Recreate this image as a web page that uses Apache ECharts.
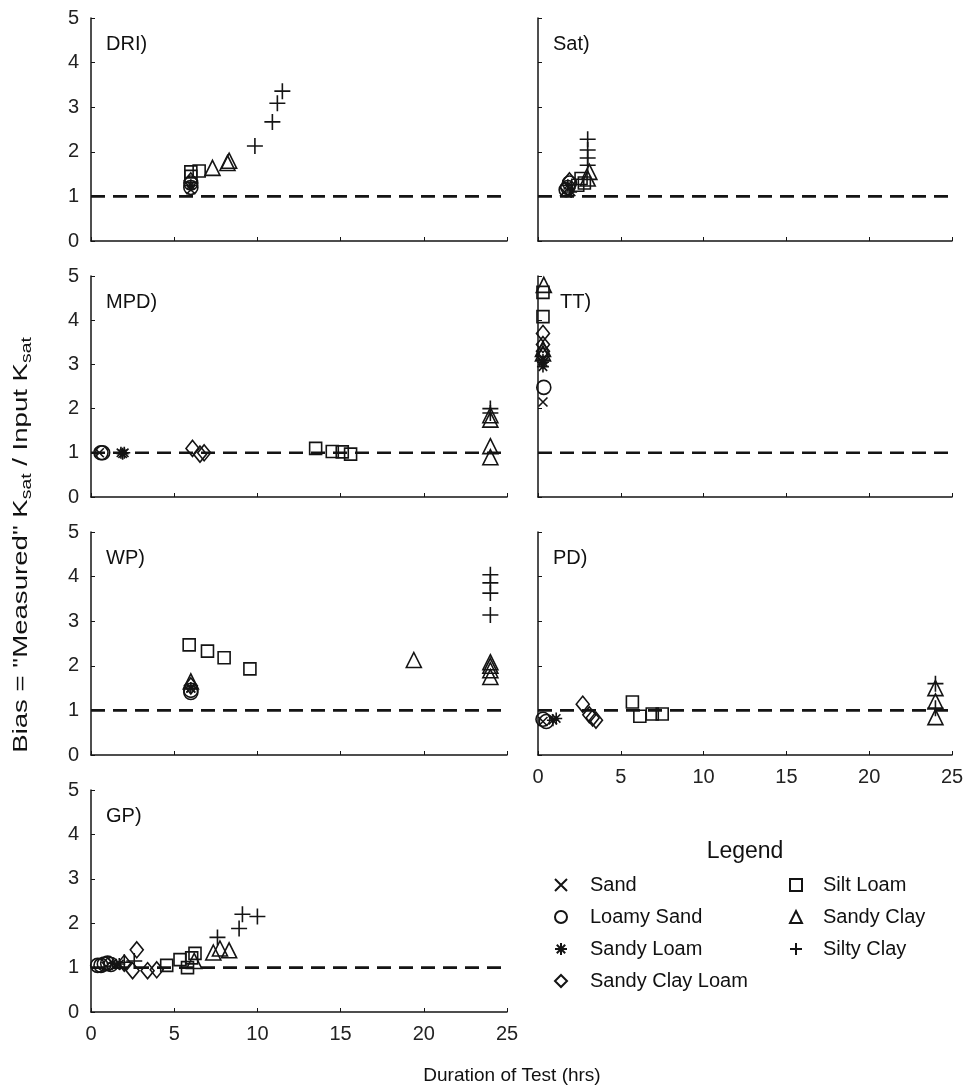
<!DOCTYPE html>
<html>
<head>
<meta charset="utf-8">
<script src="https://cdn.jsdelivr.net/npm/echarts@6/dist/echarts.min.js"></script>
<style>
  html, body { margin: 0; padding: 0; background: #fff; }
  #main { width: 968px; height: 1090px; }
</style>
</head>
<body>
<div id="main"></div>
<script>
// soil classes, in legend order
var soilTypes = ['Sand', 'Loamy Sand', 'Sandy Loam', 'Sandy Clay Loam', 'Silt Loam', 'Sandy Clay', 'Silty Clay'];
var panelNames = ['DRI)', 'Sat)', 'MPD)', 'TT)', 'WP)', 'PD)', 'GP)'];
var xTicks = [0, 5, 10, 15, 20, 25];
var yTicks = [0, 1, 2, 3, 4, 5];
var refLine = [[0, 1], [25, 1]];

// [class, duration (hrs), bias]
var dri = [
  ['Sand', 6.0, 1.15],
  ['Loamy Sand', 6.0, 1.2], ['Loamy Sand', 6.0, 1.3],
  ['Sandy Loam', 6.0, 1.25],
  ['Sandy Clay Loam', 6.0, 1.35],
  ['Silt Loam', 6.0, 1.45], ['Silt Loam', 6.0, 1.55], ['Silt Loam', 6.5, 1.57],
  ['Sandy Clay', 7.3, 1.64], ['Sandy Clay', 8.2, 1.75], ['Sandy Clay', 8.3, 1.8],
  ['Silty Clay', 9.85, 2.13], ['Silty Clay', 10.9, 2.67], ['Silty Clay', 11.2, 3.09], ['Silty Clay', 11.5, 3.36]
];
var sat = [
  ['Sand', 1.6, 1.1],
  ['Loamy Sand', 1.7, 1.15], ['Loamy Sand', 1.8, 1.2], ['Loamy Sand', 1.9, 1.3],
  ['Sandy Loam', 1.8, 1.25], ['Sandy Loam', 2.0, 1.1],
  ['Sandy Clay Loam', 1.9, 1.35],
  ['Silt Loam', 2.4, 1.25], ['Silt Loam', 2.6, 1.4], ['Silt Loam', 2.8, 1.3],
  ['Sandy Clay', 3.0, 1.4], ['Sandy Clay', 3.1, 1.55],
  ['Silty Clay', 3.0, 1.7], ['Silty Clay', 3.0, 1.86], ['Silty Clay', 3.0, 2.04], ['Silty Clay', 3.0, 2.28]
];
var mpd = [
  ['Sand', 0.5, 1.0],
  ['Loamy Sand', 0.6, 1.0], ['Loamy Sand', 0.7, 1.0],
  ['Sandy Loam', 1.8, 1.0], ['Sandy Loam', 1.9, 0.98], ['Sandy Loam', 2.0, 1.0],
  ['Sandy Clay Loam', 6.1, 1.1], ['Sandy Clay Loam', 6.55, 0.97], ['Sandy Clay Loam', 6.8, 1.0],
  ['Silt Loam', 13.5, 1.1], ['Silt Loam', 14.5, 1.03], ['Silt Loam', 15.1, 1.02], ['Silt Loam', 15.6, 0.97],
  ['Sandy Clay', 24, 1.75], ['Sandy Clay', 24, 1.85], ['Sandy Clay', 24, 1.15], ['Sandy Clay', 24, 0.9],
  ['Silty Clay', 24, 2.0], ['Silty Clay', 24, 1.9]
];
var tt = [
  ['Sand', 0.3, 2.15],
  ['Loamy Sand', 0.35, 2.48],
  ['Sandy Loam', 0.3, 2.95], ['Sandy Loam', 0.3, 3.05], ['Sandy Loam', 0.3, 3.1],
  ['Sandy Clay Loam', 0.3, 3.7], ['Sandy Clay Loam', 0.3, 3.45], ['Sandy Clay Loam', 0.3, 3.3], ['Sandy Clay Loam', 0.3, 3.2],
  ['Silt Loam', 0.3, 4.63], ['Silt Loam', 0.3, 4.08],
  ['Sandy Clay', 0.35, 4.8], ['Sandy Clay', 0.3, 3.35], ['Sandy Clay', 0.3, 3.25]
];
var wp = [
  ['Sand', 6.0, 1.5],
  ['Loamy Sand', 6.0, 1.4], ['Loamy Sand', 6.0, 1.45],
  ['Sandy Loam', 6.0, 1.5],
  ['Sandy Clay Loam', 6.0, 1.55],
  ['Silt Loam', 5.9, 2.47], ['Silt Loam', 7.0, 2.33], ['Silt Loam', 8.0, 2.18], ['Silt Loam', 9.55, 1.93],
  ['Sandy Clay', 6.0, 1.65], ['Sandy Clay', 19.4, 2.13], ['Sandy Clay', 24, 2.08], ['Sandy Clay', 24, 2.0], ['Sandy Clay', 24, 1.9], ['Sandy Clay', 24, 1.75],
  ['Silty Clay', 24, 4.04], ['Silty Clay', 24, 3.86], ['Silty Clay', 24, 3.63], ['Silty Clay', 24, 3.14]
];
var pd = [
  ['Sand', 0.3, 0.75],
  ['Loamy Sand', 0.3, 0.8], ['Loamy Sand', 0.5, 0.75],
  ['Sandy Loam', 0.9, 0.78], ['Sandy Loam', 1.1, 0.82],
  ['Sandy Clay Loam', 2.7, 1.14], ['Sandy Clay Loam', 3.1, 0.9], ['Sandy Clay Loam', 3.3, 0.83], ['Sandy Clay Loam', 3.5, 0.78],
  ['Silt Loam', 5.7, 1.19], ['Silt Loam', 6.15, 0.87], ['Silt Loam', 6.9, 0.92], ['Silt Loam', 7.5, 0.92],
  ['Sandy Clay', 24, 1.5], ['Sandy Clay', 24, 1.2], ['Sandy Clay', 24, 0.85],
  ['Silty Clay', 24, 1.6], ['Silty Clay', 24, 1.05]
];
var gp = [
  ['Sand', 0.9, 1.03], ['Sand', 1.5, 1.05],
  ['Loamy Sand', 0.4, 1.05], ['Loamy Sand', 0.6, 1.05], ['Loamy Sand', 0.8, 1.08], ['Loamy Sand', 1.0, 1.1], ['Loamy Sand', 1.2, 1.07],
  ['Sandy Loam', 1.3, 1.1], ['Sandy Loam', 1.7, 1.08],
  ['Sandy Clay Loam', 2.0, 1.1], ['Sandy Clay Loam', 2.75, 1.4], ['Sandy Clay Loam', 2.5, 0.93], ['Sandy Clay Loam', 3.4, 0.93], ['Sandy Clay Loam', 3.95, 0.95],
  ['Silt Loam', 4.55, 1.05], ['Silt Loam', 5.35, 1.18], ['Silt Loam', 5.8, 1.0], ['Silt Loam', 6.05, 1.22], ['Silt Loam', 6.25, 1.32],
  ['Sandy Clay', 6.2, 1.15], ['Sandy Clay', 7.35, 1.34], ['Sandy Clay', 7.75, 1.43], ['Sandy Clay', 8.3, 1.39],
  ['Silty Clay', 2.0, 1.12], ['Silty Clay', 2.6, 1.15], ['Silty Clay', 7.6, 1.68], ['Silty Clay', 8.9, 1.88], ['Silty Clay', 9.1, 2.2], ['Silty Clay', 10.0, 2.15]
];
var panelData = [dri, sat, mpd, tt, wp, pd, gp];

(function(window, echarts, undefined) {
  var FONT = '"Liberation Sans", Arial, sans-serif';
  var INK = '#141414';

  // marker shape and size for each class
  var symbolMap = {
    'Sand': ['path://M0,0L10,10M0,10L10,0', 9],
    'Loamy Sand': ['circle', 14],
    'Sandy Loam': ['path://M5,0L5,10M0,5L10,5M1.5,1.5L8.5,8.5M1.5,8.5L8.5,1.5', 12],
    'Sandy Clay Loam': ['diamond', [13, 16]],
    'Silt Loam': ['rect', 12],
    'Sandy Clay': ['triangle', 15],
    'Silty Clay': ['path://M5,0L5,10M0,5L10,5', 16]
  };

  // grid boxes: left column / right column, four rows
  var colLeft = [91, 538];
  var colWidth = [416, 414];
  var rowTop = [18, 276, 532, 790];
  var rowHeight = [223, 221, 223, 222];

  echarts.init(document.getElementById('main')).setOption(fnBuildOption());

  function fnBuildOption() {
    var grids = [], xAxes = [], yAxes = [], series = [], graphics = [];

    panelNames.forEach(function(name, i) {
      var col = i % 2, row = Math.floor(i / 2);
      var showX = (i === 5 || i === 6);
      grids.push({
        left: colLeft[col], top: rowTop[row],
        width: colWidth[col], height: rowHeight[row]
      });
      xAxes.push({
        gridIndex: i, type: 'value',
        min: xTicks[0], max: xTicks[xTicks.length - 1], interval: xTicks[1] - xTicks[0],
        axisLine: { show: true, onZero: false, lineStyle: { color: INK, width: 1.5 } },
        axisTick: { show: true, inside: true, length: 4, lineStyle: { color: INK } },
        axisLabel: { show: showX, margin: 12, fontSize: 20, color: '#222', fontFamily: FONT },
        splitLine: { show: false }
      });
      yAxes.push({
        gridIndex: i, type: 'value',
        min: yTicks[0], max: yTicks[yTicks.length - 1], interval: yTicks[1] - yTicks[0],
        axisLine: { show: true, lineStyle: { color: INK, width: 1.5 } },
        axisTick: { show: true, inside: true, length: 4, lineStyle: { color: INK } },
        axisLabel: { show: col === 0, margin: 12, fontSize: 20, color: '#222', fontFamily: FONT },
        splitLine: { show: false }
      });

      // dashed reference line at bias = 1
      series.push({
        type: 'line', xAxisIndex: i, yAxisIndex: i, data: refLine,
        symbol: 'none', silent: true, z: 1,
        lineStyle: { color: INK, width: 2.6, type: [14, 8] }
      });

      soilTypes.forEach(function(soil) {
        var pts = panelData[i].filter(function(r) { return r[0] === soil; })
          .map(function(r) { return [r[1], r[2]]; });
        if (!pts.length) return;
        series.push({
          type: 'scatter', name: soil, xAxisIndex: i, yAxisIndex: i, data: pts,
          symbol: symbolMap[soil][0], symbolSize: symbolMap[soil][1], z: 3,
          itemStyle: { color: 'rgba(0,0,0,0)', borderColor: INK, borderWidth: 1.6, opacity: 1 }
        });
      });

      graphics.push({
        type: 'text', left: colLeft[col] + (i === 3 ? 22 : 15), top: rowTop[row] + 16,
        style: { text: name, fill: '#111', font: '20px ' + FONT }
      });
    });

    // axis titles
    graphics.push({
      type: 'text', x: 21, y: 545, rotation: Math.PI / 2, scaleX: 1.38,
      style: {
        text: 'Bias = "Measured" K{s|sat} / Input K{s|sat}',
        font: '20px ' + FONT, fill: '#111', align: 'center', verticalAlign: 'middle',
        rich: { s: { fontSize: 14, fontFamily: FONT, padding: [13, 0, 0, 0] } }
      }
    });
    graphics.push({
      type: 'text', x: 512, y: 1076,
      style: { text: 'Duration of Test (hrs)', font: '19px ' + FONT, fill: '#111', align: 'center', verticalAlign: 'middle' }
    });
    graphics.push({
      type: 'text', x: 745, y: 852,
      style: { text: 'Legend', font: '23px ' + FONT, fill: '#111', align: 'center', verticalAlign: 'middle' }
    });

    var legendBase = {
      orient: 'vertical', selectedMode: false, itemWidth: 12, itemHeight: 12, itemGap: 12
    };

    return {
      animation: false,
      backgroundColor: '#fff',
      grid: grids,
      xAxis: xAxes,
      yAxis: yAxes,
      legend: [
        Object.assign({
          left: 549, top: 870, data: soilTypes.slice(0, 4),
          textStyle: { fontSize: 20, color: '#111', fontFamily: FONT, padding: [0, 0, 0, 18] }
        }, legendBase),
        Object.assign({
          left: 784, top: 870, data: soilTypes.slice(4),
          textStyle: { fontSize: 20, color: '#111', fontFamily: FONT, padding: [0, 0, 0, 16] }
        }, legendBase)
      ],
      graphic: graphics,
      series: series
    };
  }
})(window, echarts);
</script>
</body>
</html>
